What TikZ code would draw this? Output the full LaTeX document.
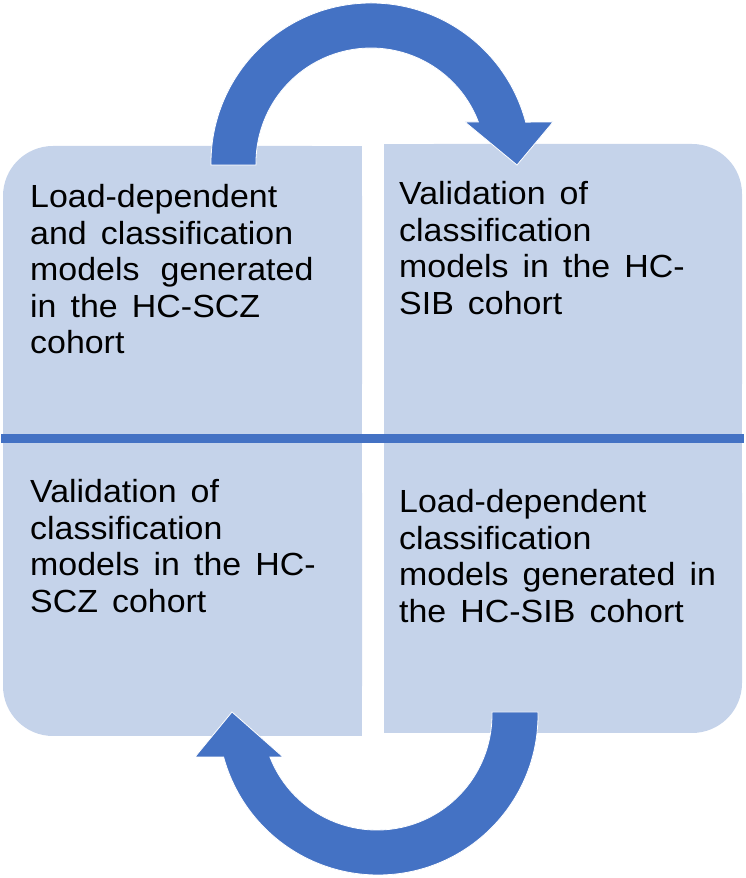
\documentclass[tikz,border=0pt]{standalone}
\usepackage{fontspec}
\setmainfont[FakeStretch=1.06,WordSpace=1.5]{Liberation Sans}
\definecolor{panelblue}{HTML}{C5D3EA}
\definecolor{accentblue}{HTML}{4472C4}
\begin{document}
\begin{tikzpicture}[x=1pt,y=1pt,
  panel/.style={fill=panelblue},
  bigarrow/.style={fill=accentblue, draw=white, line width=0.8pt},
  paneltext/.style={anchor=base west, inner sep=0pt, font=\fontsize{32}{36.4}\selectfont}]
\useasboundingbox (0,0) rectangle (745,878);
% panels
\fill[panel, rounded corners=50pt] (3,444) rectangle (362,732);
\fill[panel] (3,444) rectangle (362,600);
\fill[panel] (200,444) rectangle (362,732);
\fill[panel, rounded corners=50pt] (384,444) rectangle (742,734);
\fill[panel] (384,444) rectangle (742,600);
\fill[panel] (384,444) rectangle (560,734);
\fill[panel, rounded corners=50pt] (3,142) rectangle (362,435);
\fill[panel] (3,300) rectangle (362,435);
\fill[panel] (200,142) rectangle (362,435);
\fill[panel, rounded corners=50pt] (384,145) rectangle (742,435);
\fill[panel] (384,300) rectangle (742,435);
\fill[panel] (384,145) rectangle (560,435);
% divider line
\fill[accentblue] (1,435) rectangle (744,444);
% texts
\node[paneltext] (tl) at (30,670) {\parbox[t]{330pt}{\raggedright Load-dependent\\and classification\\models\hspace{7pt} generated\\in the HC-SCZ\\cohort}};
\node[paneltext] (tr) at (399,673) {\parbox[t]{340pt}{\raggedright Validation of\\classification\\models in the HC-\\SIB cohort}};
\node[paneltext] (bl) at (30,375) {\parbox[t]{330pt}{\raggedright Validation of\\classification\\models in the HC-\\SCZ cohort}};
\node[paneltext] (br) at (399,365) {\parbox[t]{340pt}{\raggedright Load-dependent\\classification\\models generated in\\the HC-SIB cohort}};
% top circular arrow
\path[bigarrow] (211,713) -- (211,715) arc[start angle=180, end angle=14.8, radius=160pt]
  -- (553,756) -- (517,713) -- (465,756) -- (478.4,756)
  arc[start angle=20.9, end angle=180, radius=115pt] -- (256,713) -- cycle;
% bottom circular arrow
\path[bigarrow] (538,166) -- (538,163) arc[start angle=0, end angle=-164.8, radius=160pt]
  -- (195,121) -- (232,166) -- (283,121) -- (269.9,121)
  arc[start angle=-158.6, end angle=0, radius=115pt] -- (492,166) -- cycle;
\end{tikzpicture}
\end{document}
